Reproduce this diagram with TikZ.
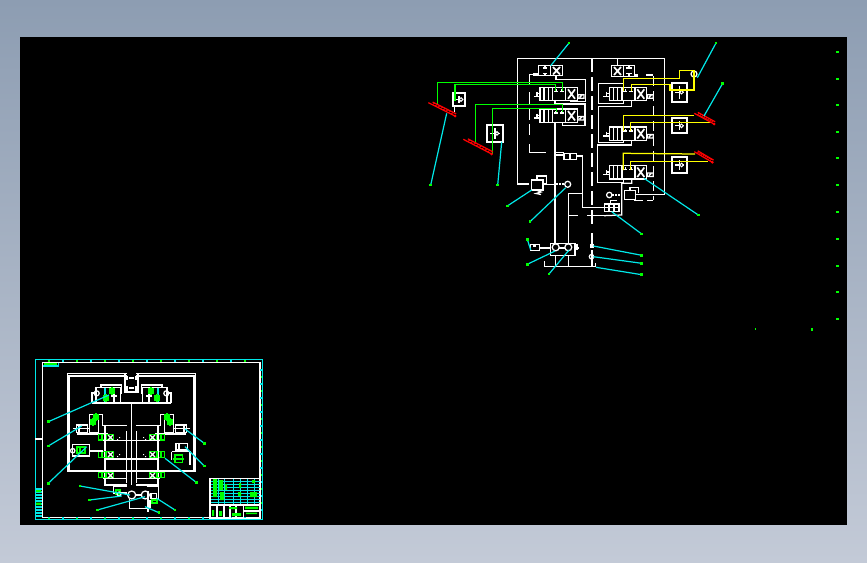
\documentclass[tikz,border=0pt]{standalone}
\usetikzlibrary{calc}
\definecolor{bgtop}{HTML}{8D9DB2}
\definecolor{bgbot}{HTML}{C3CAD7}
\definecolor{cadcyan}{HTML}{00E8E8}
\definecolor{cadgreen}{HTML}{00FF00}
\definecolor{cadyellow}{HTML}{FFFF00}
\tikzset{
  wl/.style={draw=white,line width=1.25pt},
  wt/.style={draw=white,line width=1.7pt},
  gl/.style={draw=cadgreen,line width=1.25pt},
  yl/.style={draw=cadyellow,line width=1.25pt},
  cl/.style={draw=cadcyan,line width=1.2pt},
  rl/.style={draw=red,line width=1.25pt},
  dashv/.style={draw=white,line width=1.25pt,dash pattern=on 14pt off 5pt}
}
% directional valve, (x,y) = top left of the body
\newcommand\dvalve[2]{\begin{scope}[shift={(#1,#2)}]
  \draw[wl] (0,0) rectangle (37.5,13.4);
  \draw[wl] (4,0)--(4,13.4) (8.3,0)--(8.3,13.4) (12.7,0)--(12.7,13.4) (25.7,0)--(25.7,13.4);
  \draw[wl] (14,4)--(18,4) (16,4)--(16,1.5) (20,4)--(24,4) (22,4)--(22,1.5);
  \draw[wt] (28,2)--(35,11.5) (35,2)--(28,11.5);
  \draw[wl] (38,7.5) rectangle (44,11) (39.5,10)--(42,8);
  \draw[wl] (0,6.5)--(-3,6.5) (-3,4.5)--(-3,9) (-6,9)--(0,9);
\end{scope}}
% square box with check symbol
\newcommand\chk[4]{\draw[wt] (#1,#2) rectangle (#3,#4);
  \draw[wl] ({(#1+#3)/2},{#2+3})--({(#1+#3)/2},{#4-3}) ({#1+3},{(#2+#4)/2})--({#3-3},{(#2+#4)/2});
  \draw[draw=white,line width=1pt,fill=black] ({(#1+#3)/2+2},{(#2+#4)/2}) circle (1.8pt);}
% red cylinder between two points
\newcommand\redcyl[4]{\draw[rl] (#1,#2)--(#3,#4);
  \draw[rl] ($(#1,#2)!0.12!(#3,#4)!2.5pt!90:(#3,#4)$)--($(#3,#4)!2.5pt!-90:(#1,#2)$);
  \foreach \t in {0.15,0.25,...,0.95}{\draw[red,line width=.8pt] ($(#1,#2)!\t!(#3,#4)$)--($(#1,#2)!\t+0.05!(#3,#4)!2.5pt!90:(#3,#4)$);}
  \fill[red] (#3,#4) circle (1.5pt);}
% cyan leader with green end
\newcommand\ldr[4]{\draw[cl] (#1,#2)--(#3,#4); \fill[cadgreen] ({#3-1.3},{#4-1.3}) rectangle ({#3+1.3},{#4+1.3});}
\newcommand\gbit[2]{\draw[gl] (#1,#2) rectangle ({#1+4},{#2+4}) ({#1+2},{#2-2})--({#1+2},{#2+6});}
% one half of the small drawing
\newcommand\halfdraw{
  \draw[wl] (67.3,471.7)--(67.3,373.3)--(126.7,373.3) (69,470)--(69,376)--(126.7,376);
  \draw[wt] (67.3,471.2)--(131.5,471.2);
  \draw[wl] (125,373.3)--(125,392)--(131.5,392);
  \draw[wl] (127,376)--(127,380) (127,386)--(127,392);
  \draw[wl] (96,387.3)--(120.7,387.3)--(120.7,402.7) (96,387.3)--(96,402.7);
  \draw[wl] (101,387)--(101,385)--(121.7,385)--(121.7,394);
  \draw[wt] (92,403.3)--(131.5,403.3);
  \draw[wl] (92,403)--(92,393)--(95,393);
  \draw[wl] (96.7,393.3) circle (2.5pt);
  \draw[cl] (105,388)--(105,402);
  \draw[wl] (114,388)--(114,402) (111,396)--(117,396);
  \gbit{110}{389} \gbit{104}{396}
  \draw[wl] (89.3,414.3) rectangle (98.3,432.3);
  \draw[wl] (98.3,414.3)--(102.7,414.3)--(102.7,425.7)--(126.7,425.7);
  \draw[wl] (76.7,425) rectangle (87.3,432.3) (79,425)--(79,432.3) (73,428.5)--(89,428.5);
  \draw[wt] (77.3,433.7)--(108.3,433.7);
  \gbit{94}{415} \gbit{91}{420}
  \draw[gl] (98.3,434.3) rectangle (113.3,440) (102,434.3)--(102,440) (106,434.3)--(106,440);
  \draw[wl] (108,435)--(113,440) (113,435)--(108,440);
  \draw[wt] (103.3,440.5)--(131.5,440.5);
  \draw[wl] (105,425.7)--(105,485)--(126.7,485) (126.7,431)--(126.7,483);
  \draw[wl] (131.5,425)--(131.5,485);
  \draw[gl] (98.3,451.7) rectangle (113.3,457.3) (102,451.7)--(102,457.3) (106,451.7)--(106,457.3);
  \draw[wl] (108,452)--(113,457) (113,452)--(108,457);
  \draw[wt] (105,459)--(131.5,459);
  \draw[gl] (98.3,472.3) rectangle (113.3,477.7) (102,472.3)--(102,477.7) (106,472.3)--(106,477.7);
  \draw[wl] (108,473)--(113,478) (113,473)--(108,478);
  \draw[wl] (103,478.5)--(126.7,478.5);
  \fill[white] (117,439) rectangle (118,440) (119,437) rectangle (120,438) (117,456) rectangle (118,457) (119,454) rectangle (120,455);
}
\begin{document}
\begin{tikzpicture}[x=1pt,y=-1pt,line join=miter]
\useasboundingbox (0,0) rectangle (867,562);
\shade[top color=bgtop,bottom color=bgbot] (0,0) rectangle (867,562);
\fill[black] (20,37) rectangle (847,525);

%--- upper hydraulic schematic: frame
\draw[wl] (529,184)--(517.3,184)--(517.3,58.3)--(664.3,58.3)--(664.3,194.3)--(635.7,194.3);
\draw[dashv] (592,58)--(592,228);
\draw[dashv] (592,233)--(592,246);
\draw[wl] (592,250)--(592,266);
\draw[wl,dash pattern=on 12pt off 4pt] (529.3,92)--(529.3,135);
\draw[wl] (529.3,144)--(529.3,152.3)--(546,152.3);
\draw[wl] (554,152.3)--(564,152.3);
\draw[wl] (529.3,84)--(529.3,74.5)--(538.3,74.5);
\fill[white] (533,73) rectangle (538.3,76);
\draw[wl,dash pattern=on 10pt off 5pt] (653.3,76)--(653.3,200);
\draw[wl] (646,75)--(653.3,75);
\fill[white] (634.7,74) rectangle (638,76.5);
\draw[wl] (617.3,58)--(617.3,65.7);
\draw[wl] (634,200.7)--(642.7,200.7) (647,200.7)--(653.3,200.7) (611,200.7)--(617,200.7);

%--- top two valves
\draw[wl] (538.3,65.7) rectangle (562.7,75.7) (550.3,65.7)--(550.3,75.7);
\draw[wl] (543,68)--(547,68) (545,68)--(545,66) (543,73.5)--(547,73.5) (545,73.5)--(545,75.5);
\draw[wt] (553,67)--(560,74.5) (560,67)--(553,74.5);
\draw[wl] (611.3,65.7) rectangle (634.7,76.3) (623.3,65.7)--(623.3,76.3);
\draw[wt] (614,67)--(621,75) (621,67)--(614,75);
\draw[wl] (626,68)--(632,68) (629,68)--(629,66) (626,73.5)--(632,73.5) (629,73.5)--(629,75.5);

%--- left valves and their outlines
\dvalve{540}{87.3}
\dvalve{540}{109}
\draw[wl] (556,75.7)--(556,79.3)--(585.7,79.3)--(585.7,101.7)--(570,101.7);
\draw[wl] (555,100.7)--(555,104)--(585,104)--(585,125.7)--(562.3,125.7)--(562.3,122.4);
\draw[wl] (555,122.4)--(555,243.3);

%--- right valves and their outlines
\dvalve{609.3}{87.3}
\dvalve{609.3}{127}
\dvalve{609.3}{165.5}
\draw[wl] (624,83.7)--(598.3,83.7)--(598.3,103.3)--(623.3,103.3)--(623.3,100.7);
\draw[wl] (631.7,100.7)--(631.7,106.7)--(598.3,106.7)--(598.3,142.3)--(623.3,142.3)--(623.3,140.4);
\draw[wl] (631.7,140.4)--(631.7,145)--(597.3,145)--(597.3,182.3)--(623.3,182.3)--(623.3,179);
\draw[wl] (630,179)--(631.7,179)--(631.7,183.3)--(621.7,183.3)--(621.7,215)--(604,215.7);

%--- check boxes
\chk{453.3}{93.3}{464.7}{105.7}
\chk{487.3}{125}{502.7}{141.7}
\chk{672.3}{82.7}{686.7}{101.7}
\chk{672.3}{118.3}{686.7}{133.3}
\chk{672.3}{157.3}{686.7}{172.7}
\draw[wl] (454.5,93.3)--(454.5,84.3);
\draw[wl] (454.5,105.7)--(454.5,112);
\draw[wl] (694,74) circle (3pt);
\fill[white] (693,72) rectangle (695,75);

%--- middle: valves, relief, gauge
\draw[wl] (564,153.3) rectangle (576.7,159.3) (570,153.3)--(570,159.3);
\draw[wl] (555,155)--(564,155) (576.7,156)--(582.3,156)--(582.3,207.3)--(604.3,207.3);
\draw[wl] (531.3,180) rectangle (543,190);
\draw[wl] (537,180)--(537,176)--(546.7,176)--(546.7,183.3)--(543,183.3);
\draw[wl] (536,190)--(541,192)--(536,193.5)--(541,194.5);
\draw[wl] (543,184.3)--(556,184.3);
\draw[wl,line width=1.7pt,dash pattern=on 2pt off 1pt] (556,184.3)--(564.5,184.3);
\draw[wl] (567.7,184.3) circle (3pt);
\draw[wl] (568.3,193.3)--(582.3,193.3) (568.3,193.3)--(568.3,243.3) (568.3,215.5)--(577.5,215.5) (587,215.5)--(604,215.5);
\draw[wl] (604.3,204) rectangle (619,211.7) (604.3,207.8)--(619,207.8) (609,204)--(609,211.7) (614,204)--(614,211.7);
\draw[wl] (610.7,204)--(610.7,200);
\draw[wl] (624.3,190.7) rectangle (635.7,199.3);
\draw[wl] (630,190.7)--(630,187.3)--(638.3,187.3)--(638.3,193.3);
\draw[wl] (609.3,195) circle (2.7pt);
\draw[wl,line width=1.7pt,dash pattern=on 2pt off 1pt] (612,195)--(620,195);

%--- pump group
\draw[wl] (550.7,243.3) rectangle (575,255.7);
\draw[wl] (555.7,247.3) circle (3.5pt) (568.3,247.3) circle (3.5pt);
\draw[wl] (530.7,244.3) rectangle (539.3,250.7);
\fill[white] (533,245) rectangle (536,247);
\draw[wt] (539.3,247.7)--(550.7,247.7) (559.2,247.7)--(564.8,247.7) (575,247.7)--(579,247.7);
\draw[wl] (577,243.5)--(577,250);
\draw[wl] (544.3,261)--(544.3,266.7)--(595.3,266.7)--(595.3,262.7);
\draw[wl] (555.7,255.7)--(555.7,266.7) (568.3,255.7)--(568.3,266.7);
\fill[white] (589.5,244) rectangle (593.5,247.5);
\draw[wl] (591.5,256.7) circle (2.2pt);

%--- green lines and cylinders
\draw[gl] (437.3,105)--(437.3,82.3)--(562.7,82.3)--(562.7,91);
\draw[gl] (455,101)--(455,84.3)--(555.7,84.3)--(555.7,91);
\draw[gl] (475.3,143)--(475.3,104.3)--(562.7,104.3)--(562.7,112);
\draw[gl] (492.3,154)--(492.3,108.3)--(556.7,108.3)--(556.7,112);
\redcyl{428.3}{102.7}{455}{116}
\redcyl{463.3}{139.3}{491.7}{154}

%--- yellow lines and cylinders
\draw[yl] (623.3,91)--(623.3,78.3)--(679.3,78.3)--(679.3,70.3)--(694,70.3)--(694,90)--(670,90)--(670,84.3)--(631.7,84.3)--(631.7,91);
\draw[yl] (623.3,131)--(623.3,115.3)--(694.3,115.3);
\draw[yl] (630.3,131)--(630.3,122.7)--(711.7,122.7);
\draw[yl] (623.3,170)--(623.3,153.3)--(695,154);
\draw[yl] (630.3,170)--(630.3,161.3)--(708.3,161.3);
\redcyl{694.3}{113.3}{714}{124}
\redcyl{694.3}{151.7}{712.3}{162.3}

%--- leaders
\ldr{550.7}{65.7}{569}{43}
\ldr{697.3}{77.7}{716}{43}
\ldr{704}{116}{722.7}{83.3}
\ldr{446.7}{113.3}{430.7}{185}
\ldr{501.7}{141.7}{497.7}{185}
\ldr{531.7}{190}{507.3}{206}
\ldr{565.7}{187.7}{530}{221.7}
\ldr{530.7}{250}{527.3}{239.3}
\ldr{555}{251}{527.3}{264.3}
\ldr{569}{250}{549}{274}
\ldr{644}{178.3}{698.3}{215}
\ldr{611.7}{211.7}{641.7}{234}
\ldr{593.3}{246}{641.7}{255.3}
\ldr{593.3}{256.7}{641.7}{263.3}
\ldr{596}{267.3}{641.7}{274.7}

%--- column of green specks on the right
\foreach \yy in {52.3,78.7,105.3,132,158.3,185,212,238.7,266,292,318.7}{
  \fill[cadgreen] (836.3,\yy-1) rectangle (838.6,\yy+1);}
\fill[cadgreen] (754.5,327.5) rectangle (756,330);
\fill[cadgreen] (811,327.5) rectangle (813,330.5);

%--- small sheet: frame
\draw[cl] (35.3,359.3) rectangle (262.7,519.3);
\draw[wl] (42.3,362.3) rectangle (260,517.3);
\foreach \xx in {49,63,77,91,105,119,133,147,161,175,189,203,217,231,245}{
  \draw[cl] (\xx,359.3)--(\xx,362);
  \draw[cl] (\xx,517.3)--(\xx,519.3);}
\foreach \xx in {49,77,105,133,161,189,217,245}{
  \draw[gl] (\xx,360)--(\xx,362);
  \draw[gl] (\xx,517.5)--(\xx,519);}
\foreach \yy in {370,384,398,412,426,440,454,468,482,496,510}{
  \draw[cl] (260,\yy)--(262.7,\yy);}
\foreach \yy in {377,391,405,419,433,447,461,475,489,503}{
  \draw[gl] (260.7,\yy)--(262,\yy);}
\fill[cadgreen] (43.5,363) rectangle (57,365);
\draw[cl] (43,366)--(58.5,366)--(58.5,363);
\draw[wl] (35.3,439)--(42.3,439);
\foreach \yy in {489,492,495,498,501,504,507,510,513,516}{
  \draw[cl] (35.3,\yy)--(42.3,\yy);}
\fill[cadgreen] (36,490) rectangle (41,492) (36,502.5) rectangle (41,505);

%--- small sheet: symmetric drawing
\halfdraw
\begin{scope}[xshift=263pt,xscale=-1]
\halfdraw
\end{scope}
\draw[wl] (129,378)--(134,378) (129,388)--(134,388);
\draw[wl] (131.5,425)--(131.5,403.3);

% left-only
\draw[wl] (72.7,444.7) rectangle (89.3,456);
\draw[wl] (72.7,450.7) circle (2.2pt);
\draw[gl] (77,447) rectangle (85,453) (80,447)--(80,453);
\draw[wt] (89.3,450.7)--(103.3,450.7);
% right-only
\draw[wl] (176,443.3) rectangle (187.7,450) (179,443.3)--(179,450);
\draw[wl] (171.7,451.7)--(190,451.7)--(190,465);
\draw[wl] (171.7,451.7)--(171.7,460);
\draw[gl] (175,455) rectangle (182.3,462.7) (173,459)--(184,459);
\draw[wl] (158.3,425)--(158.3,470);

% small sheet: bottom assembly
\draw[wl] (113.3,486.7)--(113.3,493)--(126.7,493) (113.3,486.7)--(126.7,486.7);
\draw[gl] (116,490) rectangle (120,494);
\draw[wl] (119,494) circle (2pt);
\draw[wl] (131.7,495) circle (4pt) (145.3,495) circle (4pt);
\draw[wl] (129.3,499)--(129.3,508.3)--(148,508.3) (135.7,495)--(141.3,495);
\draw[wl] (146.7,486.7)--(158.3,486.7)--(158.3,500);
\draw[wl] (151,493.3) rectangle (156.7,498.3);
\draw[gl] (152,500) rectangle (157,503);
\draw[wl] (148,491)--(148,512) (150,500)--(150,508);

% small sheet: leaders
\ldr{109}{395}{48.3}{421.7}
\ldr{81.7}{426}{48.3}{446}
\ldr{86.7}{446.7}{48.3}{483.3}
\ldr{130}{495}{80}{486}
\ldr{121.7}{496}{89.3}{500}
\ldr{145}{496.7}{97.3}{510}
\ldr{185}{429}{204.3}{443.3}
\ldr{185}{446.7}{204.3}{466}
\ldr{165}{458.3}{196.7}{482.7}
\ldr{156.7}{498.3}{175}{510}
\ldr{145}{506.7}{159}{512.7}

% small sheet: title block
\draw[wl] (210,478.3) rectangle (260,518.3);
\foreach \yy in {481,484,487,490,493,496,499,502}{\draw[cl,line width=.8pt] (211,\yy)--(260,\yy);}
\foreach \xx in {218,224,233,240,247,254}{\draw[cl,line width=.8pt] (\xx,479)--(\xx,505);}
\fill[cadgreen] (213,479) rectangle (217,497) (219,480) rectangle (223,490) (225,484) rectangle (227,490)
  (238,492) rectangle (241,496) (239,483) rectangle (241,488) (250,492) rectangle (257,497) (252,480) rectangle (255,483) (220,492) rectangle (224,500);
\draw[wl] (210,505) rectangle (243.5,518.3) (217,505)--(217,518.3) (224,505)--(224,518.3) (230,505)--(230,518.3) (236,505)--(236,518.3);
\draw[wl] (243.5,505)--(260,505) (243.5,511)--(260,511);
\fill[cadgreen] (229,507) rectangle (237,509) (245,506.5) rectangle (258,509) (246,512.5) rectangle (257,514) (212,510) rectangle (214,516) (219,511) rectangle (222,516) (232,513) rectangle (241,516);
\end{tikzpicture}
\end{document}
